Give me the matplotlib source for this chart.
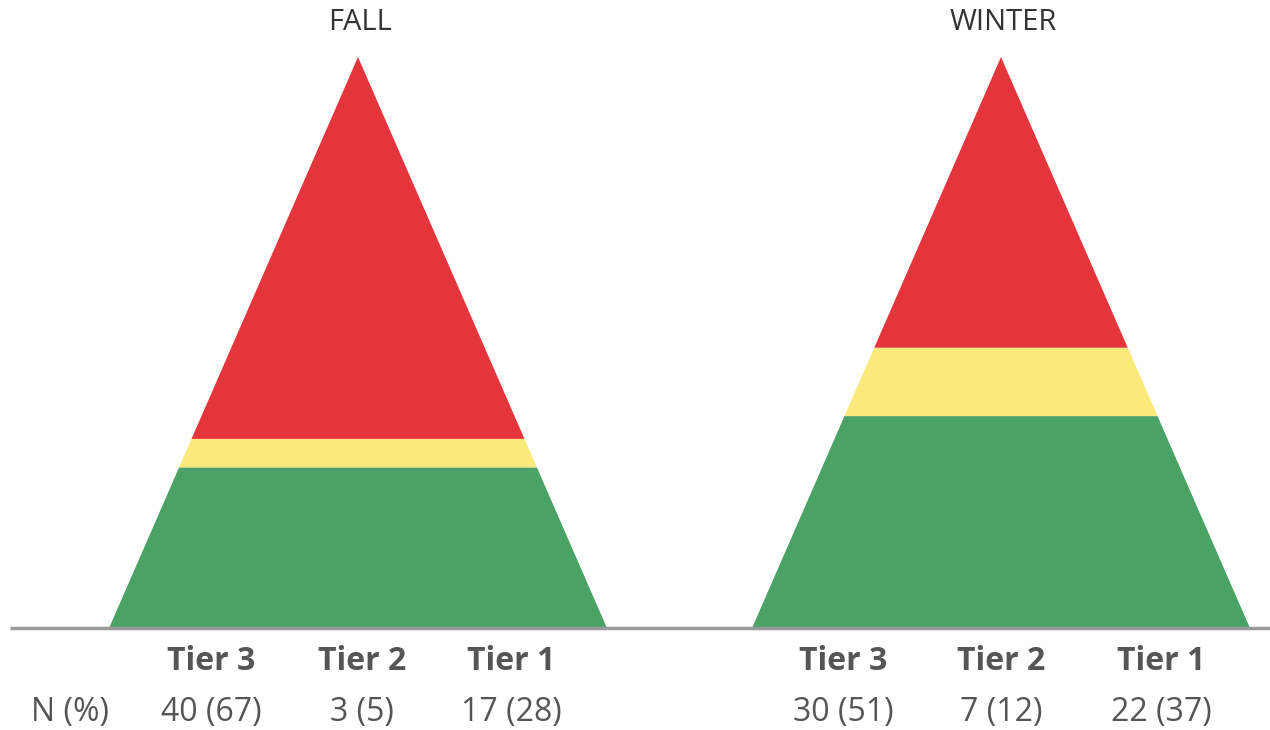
import matplotlib.pyplot as plt
from matplotlib.patches import Polygon

plt.rcParams['font.family'] = ['Open Sans', 'DejaVu Sans']

seasons = ['FALL', 'WINTER']
tiers = ['Tier 3', 'Tier 2', 'Tier 1']
counts = {'FALL': [40, 3, 17], 'WINTER': [30, 7, 22]}
pcts = {'FALL': [67, 5, 28], 'WINTER': [51, 12, 37]}

farben = {'Tier 3': '#e5353c', 'Tier 2': '#fbe97a', 'Tier 1': '#4aa266'}
grau = '#555555'

# layout in pixel coordinates
W, H = 1270, 730
basis_y = 627
hoehe = 570
breite = 497
mitte = {'FALL': 358, 'WINTER': 1001}
label_x = {'FALL': [211, 362, 511], 'WINTER': [843, 1001, 1161]}

fig = plt.figure(figsize=(W / 100, H / 100), dpi=100)
ax = fig.add_axes([0, 0, 1, 1])
ax.set_xlim(0, W)
ax.set_ylim(H, 0)
ax.axis('off')


def halbe_breite(h):
    return breite / 2 * (1 - h / hoehe)


for s in seasons:
    cx = mitte[s]
    unten = 0
    # von unten nach oben: Tier 1, Tier 2, Tier 3
    for tier, p in zip(tiers[::-1], pcts[s][::-1]):
        oben = unten + hoehe * p / sum(pcts[s])
        wu, wo = halbe_breite(unten), halbe_breite(oben)
        pts = [(cx - wu, basis_y - unten), (cx + wu, basis_y - unten),
               (cx + wo, basis_y - oben), (cx - wo, basis_y - oben)]
        ax.add_patch(Polygon(pts, closed=True, facecolor=farben[tier],
                             edgecolor='none'))
        unten = oben
    ax.text(cx + 2, 23, s, ha='center', va='center', fontsize=21, color='#333333')
    for i, t in enumerate(tiers):
        ax.text(label_x[s][i], 662, t, ha='center', va='center', fontsize=23,
                fontweight='bold', color=grau)
        ax.text(label_x[s][i], 713, f'{counts[s][i]} ({pcts[s][i]})',
                ha='center', va='center', fontsize=23, color=grau)

ax.text(70, 713, 'N (%)', ha='center', va='center', fontsize=23, color=grau)
ax.plot([10, 1270], [628, 628], color='#999999', lw=2.5, solid_capstyle='butt')

fig.savefig('out.png', dpi=100)
